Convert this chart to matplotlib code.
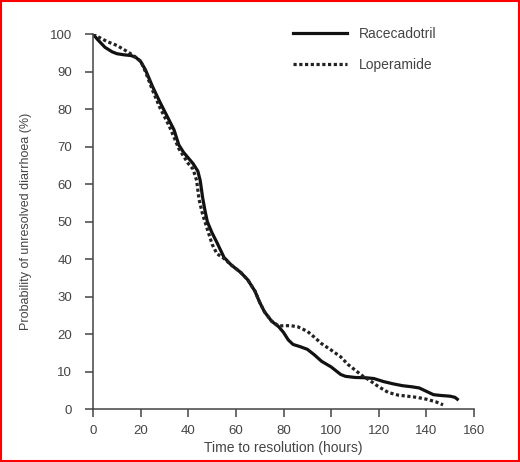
import matplotlib.pyplot as plt
from matplotlib.patches import Rectangle

plt.rcParams['font.family'] = ['Liberation Sans', 'DejaVu Sans']

race_x = [0, 2, 5, 8, 10, 13, 16, 18, 20, 22, 25, 28, 30, 32, 34, 35, 36, 38, 40, 42, 44, 45,
          46, 47, 48, 50, 52, 55, 58, 62, 65, 68, 70, 72, 75, 78, 80, 82, 84, 87, 90, 93, 96,
          100, 102, 104, 106, 110, 115, 118, 122, 126, 130, 134, 137, 140, 143, 146, 150, 152, 153]
race_y = [100, 98.5, 96.5, 95.3, 94.8, 94.5, 94.3, 93.8, 92.7, 90.5, 86, 82, 79.5, 77, 74.5, 72.5,
          70.5, 68.5, 67, 65.5, 63.5, 61, 56.5, 53, 50, 47, 44.5, 40.5, 38.5, 36.5, 34.5, 31.5,
          28.5, 26, 23.5, 22, 20.5, 18.5, 17.3, 16.7, 16, 14.5, 12.8, 11.3, 10.3, 9.3, 8.8, 8.5,
          8.4, 8.2, 7.4, 6.8, 6.3, 6, 5.7, 4.8, 3.9, 3.7, 3.5, 3.2, 2.7]

lop_x = [0, 3, 6, 10, 14, 17, 20, 22, 25, 28, 30, 32, 34, 36, 38, 40, 42, 43.5, 44.5, 46, 48, 50,
         52, 55, 58, 62, 65, 68, 70, 72, 75, 78, 80, 83, 86, 90, 93, 96, 100, 104, 107, 110, 113,
         116, 120, 124, 128, 132, 136, 140, 144, 147]
lop_y = [100, 99, 98, 97, 95.5, 94.3, 92.8, 90, 85, 80.5, 78, 75.5, 72.5, 69.5, 67.5, 65.5, 64,
         61, 56, 52, 48, 44, 41.5, 40.2, 38.5, 36.5, 34.5, 31.5, 28.5, 26, 23.5, 22.2, 22.3, 22.3,
         22, 20.8, 19.2, 17.5, 15.8, 14, 12, 10.5, 9, 7.8, 6, 4.5, 3.8, 3.5, 3.2, 2.7, 2, 1.2]

fig = plt.figure(figsize=(5.2, 4.62), dpi=100)
ax = fig.add_axes([0.179, 0.114, 0.7325, 0.812])

ax.plot(race_x, race_y, color='#111111', lw=2.3, label='Racecadotril')
ax.plot(lop_x, lop_y, color='#222222', lw=2.3, linestyle=(0, (1, 0.8)), label='Loperamide')

ax.set_xlim(0, 160)
ax.set_ylim(0, 100)
ax.set_xticks(range(0, 161, 20))
ax.set_yticks(range(0, 101, 10))
for s in ['top', 'right']:
    ax.spines[s].set_visible(False)
for s in ['left', 'bottom']:
    ax.spines[s].set_color('#444444')
    ax.spines[s].set_linewidth(1.1)
ax.tick_params(direction='out', length=6, width=1.1, color='#444444', labelcolor='#444444',
               labelsize=9.5)
ax.tick_params(axis='y', pad=9)
ax.tick_params(axis='x', pad=5)
ax.set_xlabel('Time to resolution (hours)', fontsize=10, color='#444444')
ax.xaxis.set_label_coords(0.5, -0.085)
ax.set_ylabel('Probability of unresolved diarrhoea (%)', fontsize=9, color='#444444')
ax.yaxis.set_label_coords(-0.16, 0.5)

ax.legend(loc='upper right', bbox_to_anchor=(0.915, 1.035), borderaxespad=0, frameon=False,
          fontsize=10, handlelength=3.9, handletextpad=0.8, labelspacing=1.25,
          labelcolor='#444444')

fig.patches.append(Rectangle((0.002, 0.002), 0.996, 0.996, transform=fig.transFigure,
                             fill=False, edgecolor='red', lw=1.5))

fig.savefig('out.png', dpi=100)
